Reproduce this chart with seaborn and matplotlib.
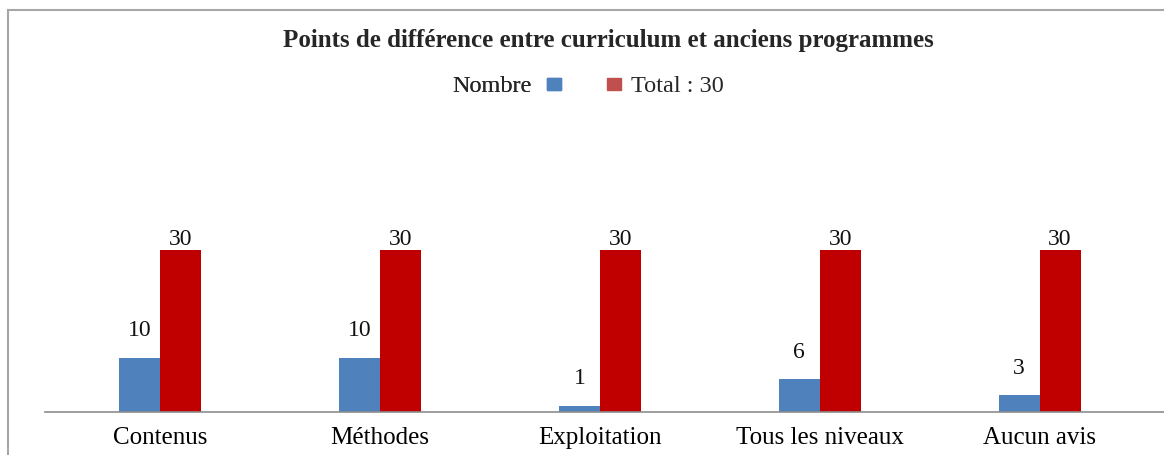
import pandas as pd
import seaborn as sns
import matplotlib.pyplot as plt
from matplotlib.patches import Patch, Rectangle

# chart values
categories = ["Contenus", "Méthodes", "Exploitation", "Tous les niveaux", "Aucun avis"]
nombre = [10, 10, 1, 6, 3]
total = [30, 30, 30, 30, 30]
series_names = ["Nombre", "Total : 30"]

title = "Points de différence entre curriculum et anciens programmes"

blue = "#4F81BD"
red = "#C00000"
red_legend = "#C0504D"

#long format table for seaborn
df = pd.DataFrame({
    "categorie": categories * 2,
    "valeur": nombre + total,
    "serie": [series_names[0]] * len(categories) + [series_names[1]] * len(categories),
})

sns.set_style("white")
plt.rcParams["font.family"] = ["Liberation Serif", "DejaVu Serif"]

W, H = 1164, 455
fig = plt.figure(figsize=(W / 100, H / 100), dpi=100)

# axes placed in pixels
base_y = 411.5
top_y = 110
left_x = 45
ax = fig.add_axes([left_x / W, (H - base_y) / H, 1 - left_x / W, (base_y - top_y) / H])

sns.barplot(data=df, x="categorie", y="valeur", hue="serie",
            palette=[blue, red], saturation=1, width=0.373,
            linewidth=0, legend=False, ax=ax)

ax.set_xlim(-0.525, 4.566)
ax.set_ylim(0, (base_y - top_y) / 5.38)
ax.set_xlabel("")
ax.set_ylabel("")
ax.set_yticks([])
ax.tick_params(axis="x", length=0, pad=11, labelsize=18, colors="#000000")
for side in ["left", "top", "right"]:
    ax.spines[side].set_visible(False)
ax.spines["bottom"].set_color("#8C8C8C")
ax.spines["bottom"].set_linewidth(1.2)

# data labels
ax.bar_label(ax.containers[0], padding=12, fontsize=17, color="#111111")
ax.bar_label(ax.containers[1], padding=0, fontsize=17, color="#111111")

# title
fig.text(608.5 / W, 1 - 41 / H, title, ha="center", va="center",
         fontsize=18, fontweight="bold")

# legend: label before the blue square, red square before its label
leg_y = 1 - 87 / H
leg1 = fig.legend(handles=[Patch(color=blue, label=series_names[0])],
                  loc="center right", bbox_to_anchor=(561 / W, leg_y),
                  frameon=False, markerfirst=False, fontsize=17.5,
                  handlelength=0.58, handleheight=0.42, handletextpad=0.62,
                  borderpad=0, borderaxespad=0)
fig.legend(handles=[Patch(color=red_legend, label=series_names[1])],
           loc="center left", bbox_to_anchor=(607 / W, leg_y),
           frameon=False, fontsize=17.5,
           handlelength=0.58, handleheight=0.42, handletextpad=0.42,
           borderpad=0, borderaxespad=0)
fig.add_artist(leg1)

# grey frame, cut on the right and bottom
fig.add_artist(Rectangle((8 / W, -0.2), 1.2, 1.2 - 10 / H,
                         transform=fig.transFigure, fill=False,
                         edgecolor="#A6A6A6", linewidth=1.5))

fig.savefig("out.png", dpi=100)
